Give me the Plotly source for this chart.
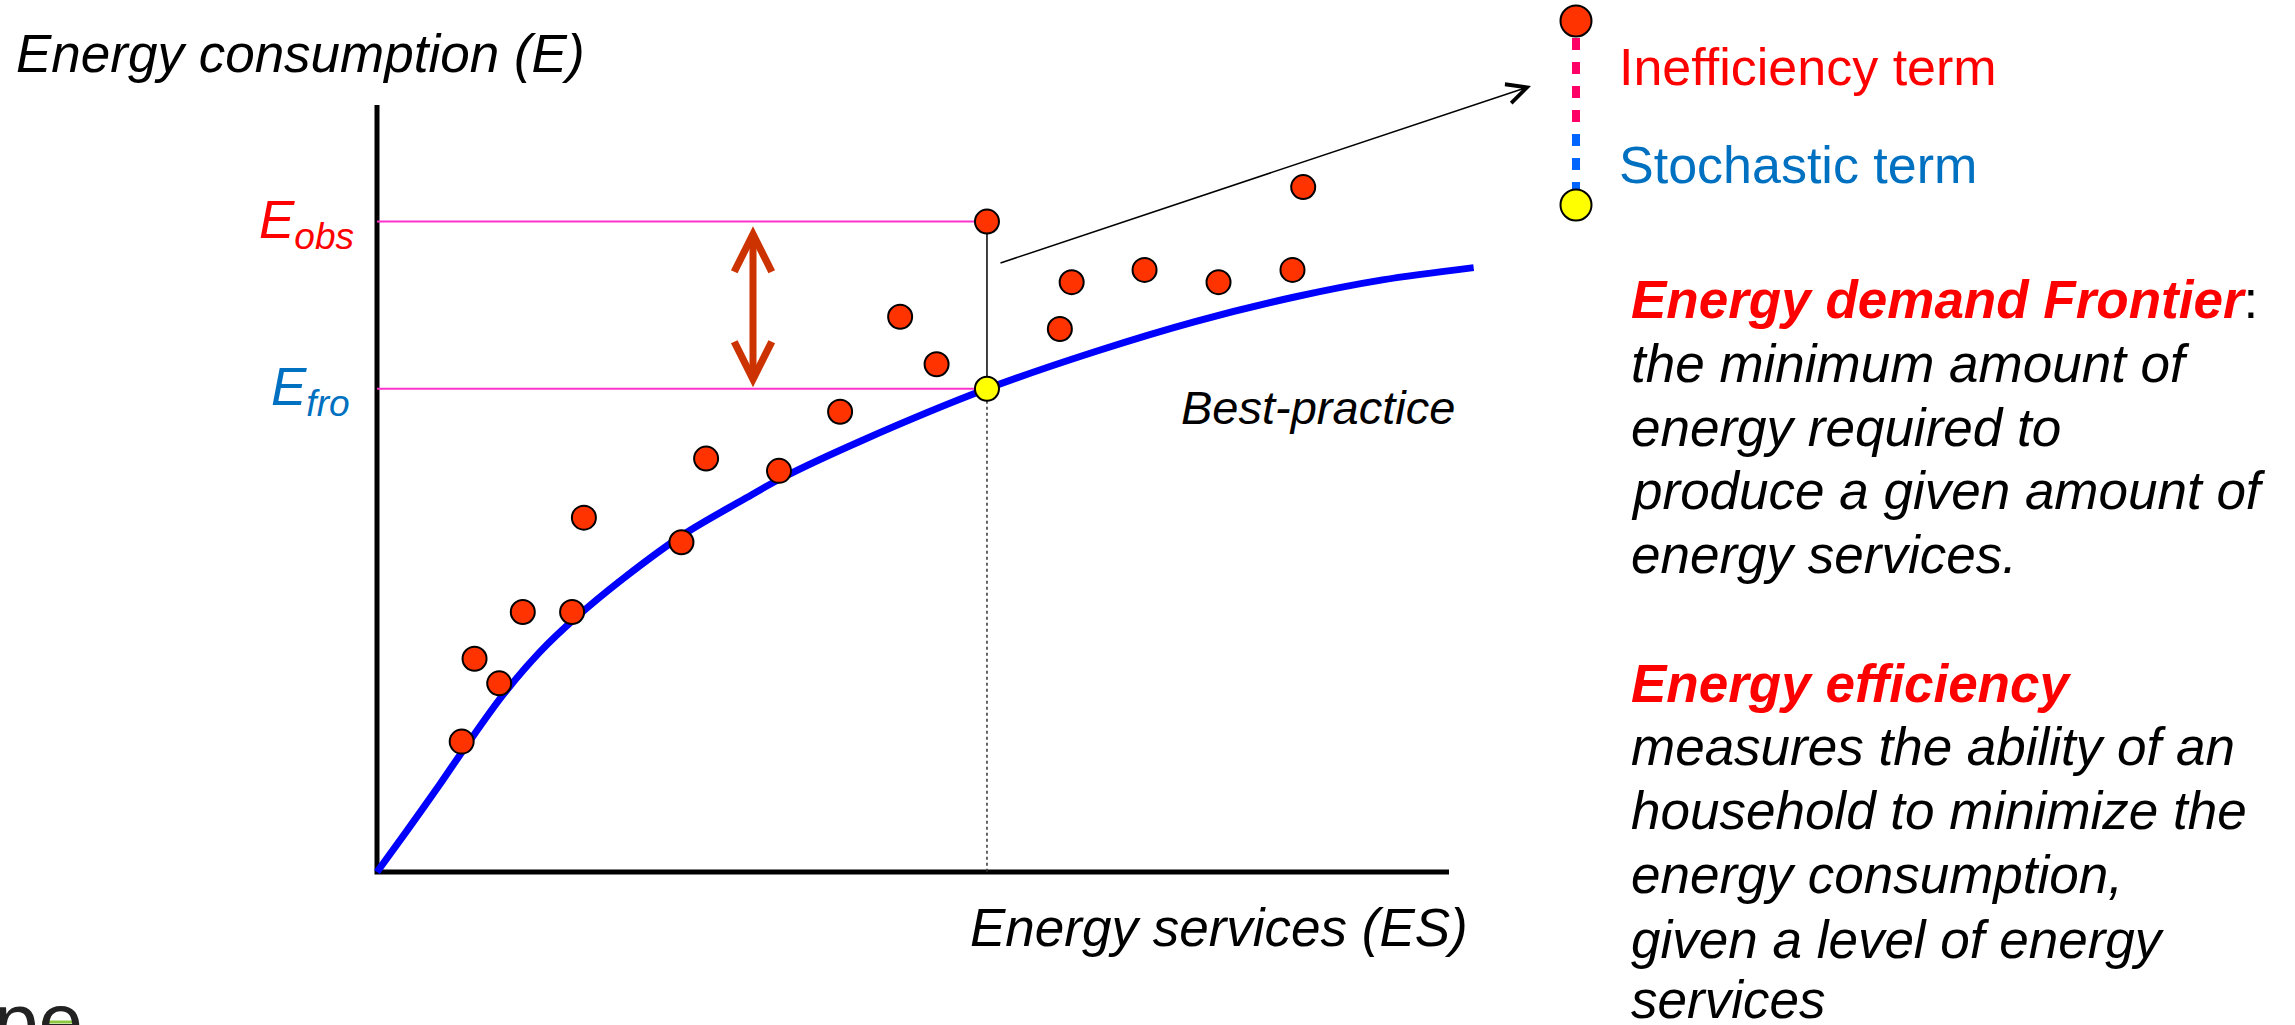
import plotly.graph_objects as go

# ---------------- data (arbitrary units: ES on x, E on y) ----------------
obs_es = [7.9, 9.1, 11.4, 13.6, 18.2, 19.3, 28.4, 30.7, 37.5, 43.2, 48.8, 52.2,
          56.9, 63.7, 64.8, 71.6, 78.5, 85.4, 86.4]
obs_e = [17.0, 27.8, 24.6, 33.9, 33.9, 46.2, 43.0, 53.9, 52.3, 60.0, 72.4, 66.2,
         84.8, 70.8, 76.9, 78.5, 76.9, 78.5, 89.3]

frontier_es = [0.0, 2.7, 5.9, 8.3, 11.7, 15.2, 18.5, 23.0, 28.7, 34.1, 37.8,
               45.3, 56.9, 67.1, 76.4, 85.7, 93.8, 102.3]
frontier_e = [0.0, 5.2, 11.5, 16.4, 23.0, 28.7, 33.1, 38.3, 44.1, 48.5, 51.4,
              56.3, 63.0, 67.9, 71.8, 75.0, 77.2, 78.8]

highlight_es = 56.9     # household highlighted
e_obs = 84.8            # observed consumption
e_fro = 63.0            # frontier consumption
axis_max = 100.0

# ---------------- canvas geometry ----------------
W, H = 2295, 1025
PX_X, PX_Y = 10.72, 7.67          # pixels per data unit
X0, Y0 = 377, 872                  # pixel position of data origin
xr = [-X0 / PX_X, (W - X0) / PX_X]
yr = [-(H - Y0) / PX_Y, Y0 / PX_Y]


def dx(px):
    return (px - X0) / PX_X


def dy(py):
    return (Y0 - py) / PX_Y


def P(px, py):
    return px / W, 1 - py / H


RED_DOT = "#FF3300"
FONT = "Liberation Sans"

fig = go.Figure()

# axes (L shape)
fig.add_trace(go.Scatter(x=[0, 0, axis_max], y=[axis_max, 0, 0], mode="lines",
                         line=dict(color="black", width=5), hoverinfo="skip"))
# pink reference lines
fig.add_trace(go.Scatter(x=[0, highlight_es, None, 0, highlight_es],
                         y=[e_obs, e_obs, None, e_fro, e_fro], mode="lines",
                         line=dict(color="#FF33CC", width=2), hoverinfo="skip"))
# dotted drop line
fig.add_trace(go.Scatter(x=[highlight_es, highlight_es], y=[e_fro, 0], mode="lines",
                         line=dict(color="#333333", width=1.5, dash="dot"), hoverinfo="skip"))
# solid thin gap line
fig.add_trace(go.Scatter(x=[highlight_es, highlight_es], y=[e_obs, e_fro], mode="lines",
                         line=dict(color="black", width=1.5), hoverinfo="skip"))
# frontier curve
fig.add_trace(go.Scatter(x=frontier_es, y=frontier_e, mode="lines",
                         line=dict(color="#0000FF", width=7, shape="spline", smoothing=0.9),
                         hoverinfo="skip"))
# observations
fig.add_trace(go.Scatter(x=obs_es, y=obs_e, mode="markers",
                         marker=dict(color=RED_DOT, size=24, line=dict(color="black", width=2)),
                         hoverinfo="skip"))
# frontier point
fig.add_trace(go.Scatter(x=[highlight_es], y=[e_fro], mode="markers",
                         marker=dict(color="#FFFF00", size=24, line=dict(color="black", width=2)),
                         hoverinfo="skip"))

# ---------------- legend-like key (top right) ----------------
kx = dx(1576)
fig.add_trace(go.Scatter(x=[kx, kx], y=[dy(38), dy(126)], mode="lines",
                         line=dict(color="#FF0066", width=8, dash="12px,12px"), hoverinfo="skip"))
fig.add_trace(go.Scatter(x=[kx, kx], y=[dy(134), dy(192)], mode="lines",
                         line=dict(color="#0066FF", width=8, dash="12px,12px"), hoverinfo="skip"))
fig.add_trace(go.Scatter(x=[kx], y=[dy(21)], mode="markers",
                         marker=dict(color=RED_DOT, size=31, line=dict(color="black", width=2)),
                         hoverinfo="skip"))
fig.add_trace(go.Scatter(x=[kx], y=[dy(205)], mode="markers",
                         marker=dict(color="#FFFF00", size=31, line=dict(color="black", width=2)),
                         hoverinfo="skip"))

annotations = []

# red double arrow (inefficiency gap)
arrow_x = dx(753)
annotations.append(dict(x=arrow_x, y=e_obs - 0.6, ax=arrow_x, ay=e_fro, xref="x", yref="y",
                        axref="x", ayref="y", showarrow=True, text="",
                        arrowside="end+start", arrowhead=5, startarrowhead=5,
                        arrowsize=1.05, startarrowsize=1.05, arrowwidth=7,
                        arrowcolor="#CC3300"))
# thin pointer arrow to the key
annotations.append(dict(x=dx(1531), y=dy(86), ax=dx(999), ay=dy(263.5), xref="x", yref="y",
                        axref="x", ayref="y", showarrow=True, text="",
                        arrowhead=5, arrowsize=2.6, arrowwidth=1.5, arrowcolor="black"))


def txt(text, px, py, size, color="black", xanchor="left"):
    x, y = P(px, py)
    annotations.append(dict(x=x, y=y, xref="paper", yref="paper", text=text,
                            showarrow=False, xanchor=xanchor, yanchor="middle",
                            font=dict(family=FONT, size=size, color=color)))


txt("<i>Energy consumption (E)</i>", 14, 53, 53)
txt("<i>Energy services (ES)</i>", 1470, 927, 53, xanchor="right")
txt("<i>Best-practice</i>", 1179, 407, 47)
txt("<i>E<sub>obs</sub></i>", 356, 224, 53, color="#FF0000", xanchor="right")
txt("<i>E<sub>fro</sub></i>", 352, 390, 53, color="#0070C0", xanchor="right")
txt("Inefficiency term", 1617, 67, 52, color="#FF0000")
txt("Stochastic term", 1617, 165, 52, color="#0070C0")

block = [
    ("<b><i>Energy demand Frontier</i></b><span style='color:black'>:</span>", 318, "#FF0000"),
    ("<i>the minimum amount of</i>", 382, "black"),
    ("<i>energy required to</i>", 446, "black"),
    ("<i>produce a given amount of</i>", 509, "black"),
    ("<i>energy services.</i>", 573, "black"),
    ("<b><i>Energy efficiency</i></b>", 702, "#FF0000"),
    ("<i>measures the ability of an</i>", 765, "black"),
    ("<i>household to minimize the</i>", 829, "black"),
    ("<i>energy consumption,</i>", 893, "black"),
    ("<i>given a level of energy</i>", 958, "black"),
    ("<i>services</i>", 1018, "black"),
]
for t, base, col in block:
    txt(t, 1629, base - 18.4, 53, color=col)

# cut-off logo fragment bottom-left
txt("pe", -8, 1021, 80, color="#222222")

shapes = [dict(type="line", xref="paper", yref="paper",
               x0=42 / W, x1=72 / W, y0=1 - 1022 / H, y1=1 - 1022 / H,
               line=dict(color="#8DC63F", width=3))]

fig.update_layout(
    width=W, height=H, margin=dict(l=0, r=0, t=0, b=0),
    paper_bgcolor="white", plot_bgcolor="white", showlegend=False,
    xaxis=dict(range=xr, visible=False, fixedrange=True),
    yaxis=dict(range=yr, visible=False, fixedrange=True),
    annotations=annotations, shapes=shapes,
)

fig.write_html("out.html", config={"displayModeBar": False},
               post_script="document.body.style.margin='0';"
                           "document.documentElement.style.overflow='hidden';")
